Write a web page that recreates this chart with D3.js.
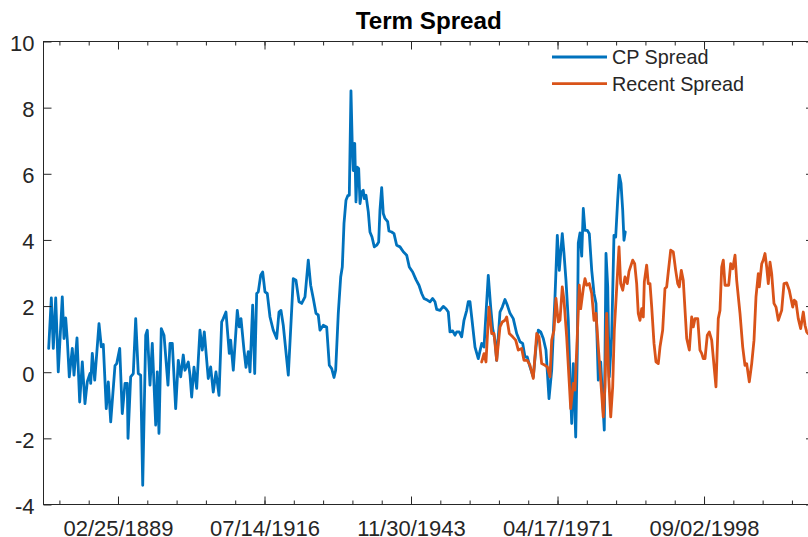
<!DOCTYPE html>
<html lang="en">
<head>
<meta charset="utf-8">
<script src="https://d3js.org/d3.v7.min.js"></script>
<title>Term Spread</title>
<style>
    body { margin: 0; background: #fff; }
    text { font-family: "Liberation Sans", Arial, sans-serif; fill: #262626; }
</style>
</head>
<body>
<div id="chart"></div>
<script>
// CP spread (decimal years, percent)
var cpYears = [
    1876.20, 1876.69, 1877.06, 1877.51, 1877.99, 1878.74, 1879.06, 1879.38, 1879.68, 1880.05,
    1880.61, 1880.93, 1881.49, 1881.99, 1882.48, 1882.98, 1883.41, 1883.92, 1884.05, 1884.35,
    1884.80, 1885.60, 1886.03, 1886.40, 1886.96, 1887.34, 1887.79, 1888.59, 1888.91, 1889.47,
    1889.95, 1890.46, 1890.89, 1891.02, 1891.52, 1892.01, 1892.46, 1892.94, 1893.39, 1893.77,
    1894.33, 1894.63, 1895.13, 1895.56, 1896.20, 1896.49, 1896.81, 1897.24, 1897.75, 1898.49,
    1898.87, 1899.30, 1899.93, 1900.42, 1900.87, 1901.35, 1901.67, 1902.29, 1902.61, 1902.92,
    1903.35, 1903.86, 1904.47, 1904.90, 1905.28, 1906.02, 1906.47, 1906.96, 1907.46, 1908.03,
    1908.53, 1908.83, 1909.33, 1909.95, 1910.21, 1910.70, 1911.45, 1911.82, 1912.14, 1912.70,
    1913.07, 1913.50, 1913.82, 1914.32, 1914.70, 1915.07, 1915.37, 1915.82, 1916.19, 1916.62,
    1917.05, 1917.56, 1918.17, 1918.81, 1919.24, 1919.61, 1920.04, 1920.98, 1921.91, 1922.41,
    1922.98, 1923.48, 1924.10, 1924.71, 1925.16, 1925.65, 1926.15, 1926.58, 1926.90, 1927.52,
    1928.15, 1928.64, 1929.09, 1929.52, 1929.83, 1930.32, 1930.77, 1931.07, 1931.39, 1931.76,
    1932.13, 1932.38, 1932.69, 1932.94, 1933.12, 1933.39, 1933.63, 1933.87, 1934.13, 1934.38,
    1934.69, 1934.99, 1935.18, 1935.50, 1935.93, 1936.24, 1936.62, 1937.05, 1937.50, 1937.87,
    1938.11, 1938.43, 1938.73, 1939.05, 1939.55, 1939.79, 1940.30, 1940.73, 1941.23, 1941.85,
    1942.47, 1943.10, 1943.59, 1944.22, 1944.84, 1945.40, 1945.91, 1946.34, 1946.95, 1947.46,
    1947.96, 1948.39, 1948.71, 1949.33, 1949.94, 1950.45, 1950.88, 1951.19, 1951.70, 1952.13,
    1952.45, 1952.93, 1953.38, 1953.81, 1954.32, 1954.61, 1954.93, 1955.25, 1955.87, 1956.48,
    1957.12, 1957.55, 1958.35, 1958.80, 1959.17, 1959.60, 1959.92, 1960.54, 1960.97, 1961.47,
    1961.90, 1962.41, 1963.02, 1963.66, 1964.28, 1964.78, 1965.21, 1965.64, 1966.14, 1966.76,
    1967.27, 1967.70, 1968.14, 1968.63, 1969.13, 1969.70, 1970.20, 1970.50, 1970.82, 1971.25,
    1971.62, 1972.18, 1972.50, 1972.87, 1973.30, 1973.62, 1973.94, 1974.24, 1974.69, 1974.98,
    1975.17, 1975.49, 1975.81, 1976.11, 1976.42, 1976.85, 1977.23, 1977.68, 1978.11, 1978.48,
    1978.91, 1979.36, 1979.73, 1980.03, 1980.35, 1980.67, 1980.96, 1981.41, 1981.84, 1982.16,
    1982.53, 1982.83, 1983.15, 1983.47, 1983.71, 1983.95
];
var cpValues = [
    0.72, 2.25, 0.72, 2.25, 0.01, 2.28, 1.02, 1.64, 0.97, -0.14,
    0.72, -0.09, 1.04, -0.90, 0.31, -0.95, -0.29, -0.04, -0.34, 0.57,
    -0.24, 1.47, 0.77, 0.84, -1.10, -0.29, -1.50, 0.20, 0.26, 0.72,
    -1.25, -0.34, -0.34, -2.00, -0.14, -0.04, 1.62, -0.04, -0.09, -3.42,
    1.12, 1.27, -0.39, 0.87, -1.60, 0.01, -1.85, 1.32, 1.12, -0.39,
    0.87, 0.87, -1.10, 0.36, -0.14, 0.52, 0.06, 0.31, -0.09, -0.75,
    0.15, -0.49, 1.27, 0.67, 1.22, -0.19, 0.16, -0.60, 0.01, -0.70,
    1.52, 1.62, 1.82, 0.57, 0.97, 0.06, 1.87, 1.37, 1.62, 0.67,
    0.15, 0.62, 0.01, 2.03, -0.04, 2.38, 2.43, 2.93, 3.03, 2.43,
    2.38, 1.67, 1.27, 1.02, 1.82, 1.87, 1.42, -0.09, 2.83, 2.78,
    2.13, 2.08, 2.28, 3.39, 2.63, 2.23, 1.78, 1.73, 1.27, 1.42,
    1.37, 0.21, 0.11, -0.16, 0.06, 1.78, 2.88, 3.18, 4.50, 5.20,
    5.35, 5.35, 8.51, 6.81, 6.10, 6.92, 5.15, 6.20, 6.16, 5.10,
    5.45, 5.50, 5.25, 5.35, 4.85, 4.24, 4.09, 3.79, 3.84, 3.94,
    4.90, 5.58, 4.80, 4.65, 4.55, 4.27, 4.24, 4.19, 3.84, 3.79,
    3.64, 3.54, 3.18, 3.03, 2.80, 2.63, 2.38, 2.23, 2.18, 2.13,
    2.23, 2.13, 1.90, 1.87, 1.99, 1.92, 1.82, 1.22, 1.25, 1.12,
    1.22, 1.22, 1.07, 1.57, 1.87, 2.13, 2.13, 1.67, 0.76, 0.41,
    0.87, 0.76, 2.93, 1.97, 1.32, 0.97, 0.36, 1.82, 1.97, 2.20,
    2.03, 1.78, 1.62, 1.17, 0.92, 0.87, 0.46, 0.46, 0.16, -0.14,
    0.76, 1.27, 1.22, 1.02, 0.67, -0.80, 0.06, 1.17, 2.28, 4.14,
    3.08, 4.19, 3.59, 2.78, 1.57, -0.14, -1.55, 0.26, -1.96, 0.57,
    3.91, 4.21, 3.51, 4.95, 4.29, 4.29, 4.19, 3.08, 2.38, 2.08,
    -0.24, 0.31, -0.84, -1.75, 3.59, 2.58, -0.14, 1.07, 4.14, 4.09,
    5.20, 5.96, 5.71, 4.90, 3.99, 4.24
];

// Recent spread
var recentYears = [
    1957.12, 1957.55, 1957.92, 1958.48, 1958.99, 1959.42, 1959.92, 1960.54, 1960.97, 1961.47,
    1961.79, 1962.28, 1962.91, 1963.47, 1963.96, 1964.59, 1965.02, 1965.64, 1966.14, 1966.76,
    1967.40, 1967.83, 1968.33, 1968.95, 1969.38, 1969.88, 1970.20, 1970.63, 1971.00, 1971.43,
    1971.75, 1972.18, 1972.50, 1973.00, 1973.49, 1973.75, 1974.24, 1974.55, 1974.98, 1975.36,
    1975.62, 1976.11, 1976.42, 1976.74, 1977.23, 1977.68, 1978.11, 1978.48, 1978.91, 1979.41,
    1979.84, 1980.16, 1980.48, 1980.85, 1981.23, 1981.60, 1981.90, 1982.22, 1982.53, 1982.78,
    1983.09, 1983.47, 1983.90, 1984.33, 1984.65, 1985.34, 1985.71, 1986.08, 1986.38, 1986.70,
    1987.02, 1987.32, 1987.51, 1987.95, 1988.25, 1988.57, 1988.89, 1989.32, 1989.69, 1990.12,
    1990.44, 1990.94, 1991.37, 1991.69, 1991.99, 1992.44, 1992.92, 1993.37, 1993.75, 1994.05,
    1994.42, 1994.79, 1995.43, 1995.92, 1996.36, 1996.66, 1996.98, 1997.49, 1997.91, 1998.23,
    1998.53, 1998.85, 1999.28, 1999.65, 2000.10, 2000.90, 2001.33, 2001.65, 2001.97, 2002.27,
    2002.59, 2002.90, 2003.28, 2003.65, 2004.03, 2004.46, 2004.77, 2005.39, 2005.90, 2006.32,
    2006.64, 2007.13, 2007.58, 2008.01, 2008.38, 2008.81, 2009.00, 2009.45, 2009.74, 2010.06,
    2010.38, 2010.68, 2011.00, 2011.31, 2011.74, 2012.12, 2012.55, 2013.18, 2013.61, 2014.12,
    2014.60, 2015.24, 2015.54, 2015.85, 2016.28, 2016.73, 2017.22, 2017.54, 2017.85, 2018.10,
    2018.84
];
var recentValues = [
    0.31, 0.56, 0.31, 1.97, 1.17, 1.17, 0.36, 1.37, 1.52, 1.57,
    1.67, 1.17, 1.07, 0.97, 0.67, 0.72, 0.36, 0.36, 0.21, -0.19,
    1.17, 1.07, 0.26, 0.21, 0.16, -0.14, 0.97, 1.27, 2.23, 1.52,
    1.57, 2.58, 2.18, 1.07, -0.34, -1.10, -0.34, -0.54, 1.07, 2.63,
    1.92, 2.53, 2.83, 2.63, 2.68, 2.38, 1.57, 1.78, 0.76, -0.34,
    -1.35, -0.44, 1.78, -0.14, -1.35, -0.44, 1.27, 2.18, 3.08, 3.79,
    2.68, 2.48, 2.88, 2.68, 3.05, 3.39, 3.28, 2.68, 1.78, 1.57,
    1.92, 1.67, 2.73, 3.24, 2.68, 2.68, 1.97, 0.87, 0.31, 0.26,
    0.76, 1.27, 2.53, 2.58, 3.03, 3.69, 3.64, 3.08, 2.68, 2.58,
    3.08, 2.78, 1.02, 0.67, 1.67, 1.37, 1.62, 1.62, 0.67, 0.57,
    0.41, 0.41, 1.12, 1.22, 0.97, -0.44, 1.62, 1.87, 3.18, 3.39,
    2.63, 2.63, 2.63, 3.28, 3.13, 3.54, 2.78, 1.78, 0.76, 0.21,
    0.26, -0.29, 0.26, 0.97, 2.28, 2.98, 2.58, 3.28, 3.39, 3.59,
    3.18, 2.68, 3.33, 2.98, 2.08, 1.97, 1.57, 1.87, 2.68, 2.70,
    2.48, 1.97, 2.18, 2.13, 1.62, 1.32, 1.82, 1.42, 1.22, 1.17,
    1.10
];

var seriesNames = ["CP Spread", "Recent Spread"];
var seriesColors = ["#0072BD", "#D95319"];
var yTicks = [-4, -2, 0, 2, 4, 6, 8, 10];
var xTickDates = [[1889, 1, 25], [1916, 6, 14], [1943, 10, 30], [1971, 3, 17], [1998, 8, 2]];
var xTickLabels = ["02/25/1889", "07/14/1916", "11/30/1943", "04/17/1971", "09/02/1998"];

var width = 808, height = 537;
var plot = {left: 43.5, right: 814, top: 41.5, bottom: 504.5};

function yearToDate(y) {
    var yr = Math.floor(y);
    var a = Date.UTC(yr, 0, 1), b = Date.UTC(yr + 1, 0, 1);
    return new Date(a + (y - yr) * (b - a));
}

var svg = d3.select("#chart")
    .append("svg")
        .attr("width", width)
        .attr("height", height);

var x = d3.scaleUtc()
    .domain([yearToDate(1875.23), yearToDate(2019.22)])
    .range([plot.left, plot.right]);

var y = d3.scaleLinear()
    .domain([-4, 10])
    .range([plot.bottom, plot.top]);

var majorTicks = xTickDates.map(function(d) { return new Date(Date.UTC(d[0], d[1], d[2])); });
// minor ticks every 2000 days around the major ones
var minorTicks = [];
var day = 86400000;
var dom = x.domain();
for (var t = majorTicks[0].getTime() - 20 * 2000 * day; t <= dom[1].getTime(); t += 2000 * day) {
    if (t >= dom[0].getTime()) minorTicks.push(new Date(t));
}

// data lines
var line = d3.line()
    .x(function(d) { return x(yearToDate(d[0])); })
    .y(function(d) { return y(d[1]); });

var series = [
    d3.zip(cpYears, cpValues),
    d3.zip(recentYears, recentValues)
];

svg.selectAll(".series")
    .data(series)
    .enter()
    .append("path")
        .attr("class", "series")
        .attr("d", line)
        .attr("fill", "none")
        .attr("stroke", function(d, i) { return seriesColors[i]; })
        .attr("stroke-width", 2.8)
        .attr("stroke-linejoin", "round")
        .attr("stroke-linecap", "round");

// axes, MATLAB style box with ticks inside
var axisColor = "#262626";

function styleAxis(g) {
    g.select(".domain").remove();
    g.selectAll("line").attr("stroke", axisColor).attr("stroke-width", 1);
    g.selectAll("text").attr("fill", axisColor).style("font-size", "22px");
}

// minor ticks top and bottom
svg.append("g")
    .attr("transform", "translate(0," + plot.bottom + ")")
    .call(d3.axisBottom(x).tickValues(minorTicks).tickSize(-4).tickFormat(""))
    .call(styleAxis);
svg.append("g")
    .attr("transform", "translate(0," + plot.top + ")")
    .call(d3.axisTop(x).tickValues(minorTicks).tickSize(-4).tickFormat(""))
    .call(styleAxis);

// major ticks
svg.append("g")
    .attr("transform", "translate(0," + plot.bottom + ")")
    .call(d3.axisBottom(x).tickValues(majorTicks).tickSize(-8).tickPadding(15.5)
        .tickFormat(function(d, i) { return xTickLabels[i]; }))
    .call(styleAxis);
svg.append("g")
    .attr("transform", "translate(0," + plot.top + ")")
    .call(d3.axisTop(x).tickValues(majorTicks).tickSize(-8).tickFormat(""))
    .call(styleAxis);

svg.append("g")
    .attr("transform", "translate(" + plot.left + ",0)")
    .call(d3.axisLeft(y).tickValues(yTicks).tickSize(-8).tickPadding(9)
        .tickFormat(function(d) { return String(d); }))
    .call(styleAxis)
    .selectAll("text").attr("dy", "0.4em");
svg.append("g")
    .attr("transform", "translate(" + plot.right + ",0)")
    .call(d3.axisRight(y).tickValues(yTicks).tickSize(-8).tickFormat(""))
    .call(styleAxis);

// box
svg.append("rect")
    .attr("x", plot.left)
    .attr("y", plot.top)
    .attr("width", plot.right - plot.left)
    .attr("height", plot.bottom - plot.top)
    .attr("fill", "none")
    .attr("stroke", axisColor)
    .attr("stroke-width", 1);

// title
svg.append("text")
    .attr("x", (plot.left + plot.right) / 2)
    .attr("y", 29)
    .attr("text-anchor", "middle")
    .style("font-size", "24.2px")
    .style("font-weight", "bold")
    .style("fill", "#000")
    .text("Term Spread");

// legend, no box
var legend = svg.append("g");
seriesNames.forEach(function(name, i) {
    var ly = 57 + i * 26.7;
    legend.append("line")
        .attr("x1", 552).attr("x2", 607)
        .attr("y1", ly).attr("y2", ly)
        .attr("stroke", seriesColors[i])
        .attr("stroke-width", 2.8);
    legend.append("text")
        .attr("x", 612)
        .attr("y", ly + 7.2)
        .style("font-size", "19.8px")
        .style("fill", axisColor)
        .text(name);
});
</script>
</body>
</html>
